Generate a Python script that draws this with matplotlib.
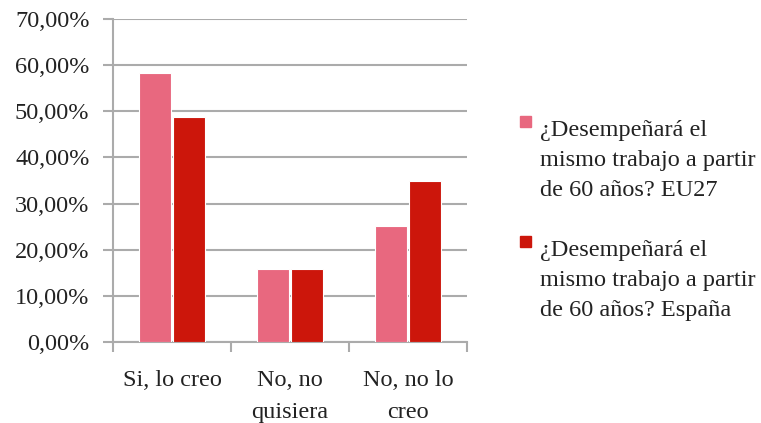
import numpy as np
import matplotlib
matplotlib.use("Agg")
import matplotlib.pyplot as plt
from matplotlib.patches import Rectangle

categories = ["Si, lo creo", "No, no\nquisiera", "No, no lo\ncreo"]
eu27 = [58.4, 15.8, 25.2]
espana = [48.7, 15.8, 34.8]
labels = ["¿Desempeñará el\nmismo trabajo a partir\nde 60 años? EU27",
          "¿Desempeñará el\nmismo trabajo a partir\nde 60 años? España"]
colors = ["#e8687f", "#cc160b"]

plt.rcParams['font.family'] = ['Liberation Serif', 'DejaVu Serif']
text_color = "#222222"
grid_color = "#ababab"
fs = 17.5

fig = plt.figure(figsize=(7.61, 4.23), dpi=100)
ax = fig.add_axes([0.1485, 0.1915, 0.4652, 0.7635])

x = np.arange(len(categories))
w = 0.275
ax.bar(x - w / 2 - 0.005, eu27, w, color=colors[0], edgecolor="white",
       linewidth=0.8, zorder=3)
ax.bar(x + w / 2 + 0.005, espana, w, color=colors[1], edgecolor="white",
       linewidth=0.8, zorder=3)

ax.set_xlim(-0.5, 2.5)
ax.set_ylim(0, 70)
ax.set_yticks(np.arange(0, 71, 10))
ax.set_yticklabels([f"{v},00%" for v in range(0, 71, 10)],
                   fontsize=fs, color=text_color)
ax.yaxis.grid(True, color=grid_color, linewidth=1.5, zorder=0)

ax.set_xticks(x)
ax.set_xticklabels(categories, fontsize=fs, color=text_color,
                   linespacing=1.7)
ax.set_xticks([-0.5, 0.5, 1.5, 2.5], minor=True)
ax.tick_params(axis='x', which='major', length=0, pad=20)
ax.tick_params(axis='x', which='minor', length=7, color=grid_color, width=1.5)
ax.tick_params(axis='y', length=7, color=grid_color, width=1.5, pad=10)

for s in ['top', 'right']:
    ax.spines[s].set_visible(False)
for s in ['left', 'bottom']:
    ax.spines[s].set_color(grid_color)
    ax.spines[s].set_linewidth(1.5)

# legend drawn by hand so the square sits on the first text line
W, H = 761, 423
for i, (lab, c) in enumerate(zip(labels, colors)):
    top = 120 + i * 120
    fig.patches.append(Rectangle((520 / W, 1 - (top + 7) / H), 11 / W, 11 / H,
                                 transform=fig.transFigure, color=c))
    fig.text(540 / W, 1 - top / H, lab, fontsize=fs, color=text_color,
             va='top', ha='left', linespacing=1.55)

fig.savefig("out.png", dpi=100)
